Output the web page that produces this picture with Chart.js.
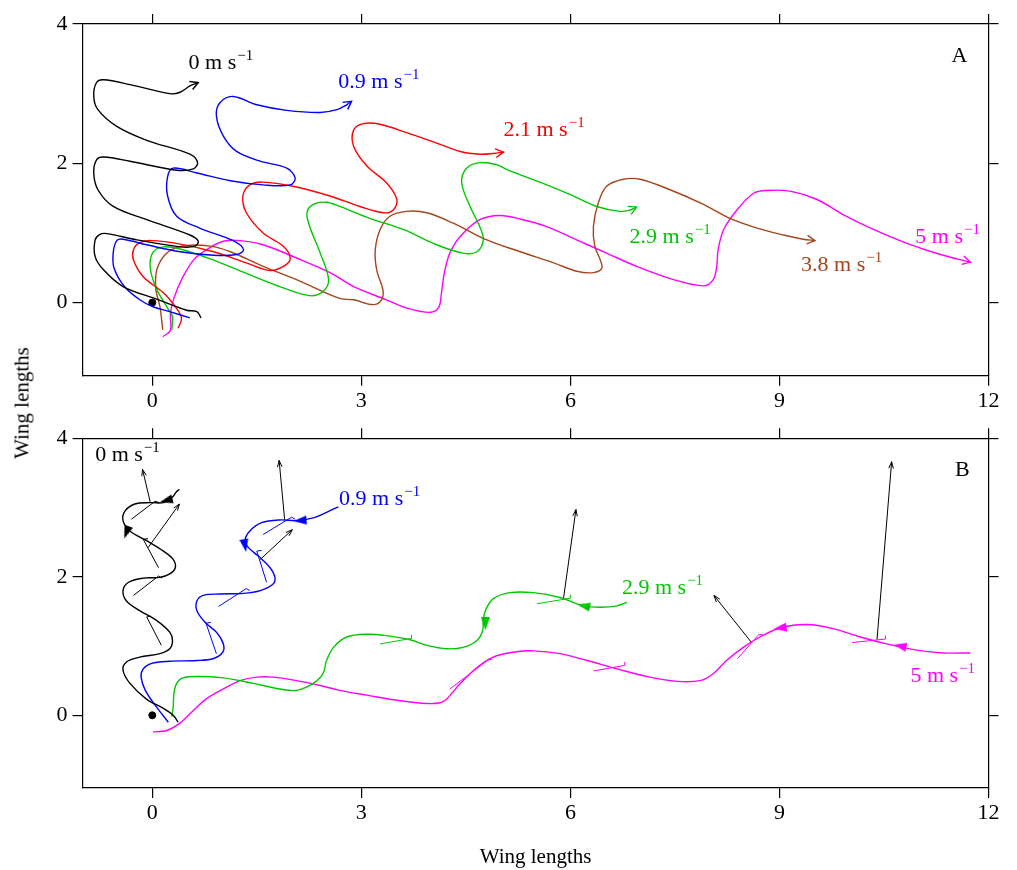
<!DOCTYPE html>
<html>
<head>
<meta charset="utf-8">
<script src="https://cdn.jsdelivr.net/npm/chart.js@4.4.1/dist/chart.umd.min.js"></script>
<style>
  body { margin: 0; background: #fff; }
  #wrap { position: relative; width: 1017px; height: 870px; background: #fff; }
  #boxA { position: absolute; left: 0; top: 0; width: 1017px; height: 420px; }
  #boxB { position: absolute; left: 0; top: 420px; width: 1017px; height: 450px; }
  #ytitle { position: absolute; left: 22px; top: 403px; transform: translate(-50%, -50%) rotate(-90deg);
            font: 21px "Liberation Serif", serif; white-space: nowrap; color: #000; }
</style>
</head>
<body>
<div id="wrap">
  <div id="boxA"><canvas id="chartA" width="1017" height="420"></canvas></div>
  <div id="boxB"><canvas id="chartB" width="1017" height="450"></canvas></div>
  <div id="ytitle">Wing lengths</div>
</div>
<script>
const xTicks = [0, 3, 6, 9, 12];
const yTicks = [0, 2, 4];

const BLACK = "#000000", BLUE = "#0000ff", RED = "#ff0000", GREEN = "#00c800", BROWN = "#a5451b", MAGENTA = "#ff00ff";

// Panel A: paths at 0, 0.9, 2.1, 2.9, 3.8 and 5 m/s (wing lengths)
const pathA0 = [[0.70,-0.22],[0.64,-0.13],[0.49,-0.11],[0.06,0.05],[-0.42,0.23],[-0.70,0.47],[-0.82,0.66],[-0.82,0.90],[-0.75,0.98],[-0.65,0.99],[-0.22,0.90],[0.40,0.80],[0.61,0.81],[0.66,0.88],[0.54,0.97],[-0.08,1.19],[-0.56,1.38],[-0.78,1.62],[-0.84,1.86],[-0.80,2.05],[-0.70,2.09],[-0.32,2.03],[0.35,1.90],[0.59,1.92],[0.65,2.01],[0.54,2.13],[-0.08,2.33],[-0.51,2.53],[-0.78,2.77],[-0.84,2.96],[-0.80,3.16],[-0.70,3.20],[-0.32,3.13],[0.25,3.00],[0.40,3.02],[0.54,3.11],[0.66,3.16]];
const pathA09 = [[0.54,-0.22],[0.25,-0.13],[0.01,-0.06],[-0.18,0.04],[-0.40,0.23],[-0.55,0.50],[-0.56,0.72],[-0.51,0.89],[-0.42,0.91],[-0.08,0.83],[0.40,0.73],[0.88,0.68],[1.21,0.69],[1.31,0.76],[1.16,0.89],[0.68,1.07],[0.35,1.24],[0.22,1.53],[0.22,1.81],[0.30,1.93],[0.64,1.86],[1.12,1.75],[1.59,1.69],[1.98,1.69],[2.05,1.79],[1.93,1.93],[1.55,2.03],[1.21,2.17],[1.02,2.39],[0.92,2.68],[0.97,2.87],[1.16,2.96],[1.50,2.84],[1.93,2.76],[2.41,2.73],[2.65,2.77],[2.79,2.84],[2.86,2.89]];
const pathA21 = [[0.37,-0.37],[0.42,-0.22],[0.33,-0.06],[0.16,0.14],[-0.13,0.37],[-0.27,0.61],[-0.27,0.76],[-0.18,0.86],[-0.01,0.89],[0.40,0.84],[0.88,0.73],[1.35,0.57],[1.69,0.46],[1.90,0.53],[1.98,0.64],[1.88,0.81],[1.59,1.00],[1.35,1.29],[1.30,1.53],[1.40,1.69],[1.59,1.73],[2.02,1.67],[2.55,1.53],[2.98,1.38],[3.32,1.29],[3.46,1.33],[3.51,1.48],[3.36,1.72],[3.08,1.96],[2.89,2.24],[2.89,2.48],[3.03,2.57],[3.27,2.56],[3.65,2.44],[4.08,2.29],[4.42,2.17],[4.70,2.13],[4.89,2.14],[5.04,2.16]];
const pathA29 = [[0.28,-0.39],[0.29,-0.20],[0.22,-0.08],[0.06,0.20],[-0.03,0.50],[0.01,0.72],[0.16,0.80],[0.40,0.77],[0.88,0.61],[1.35,0.42],[1.83,0.23],[2.26,0.10],[2.45,0.16],[2.53,0.33],[2.41,0.71],[2.26,1.09],[2.22,1.29],[2.31,1.41],[2.50,1.44],[2.69,1.38],[3.12,1.21],[3.60,1.05],[4.08,0.83],[4.46,0.71],[4.66,0.73],[4.75,0.90],[4.70,1.09],[4.56,1.38],[4.44,1.72],[4.51,1.93],[4.70,2.01],[4.94,1.98],[5.09,1.91],[5.66,1.69],[6.00,1.55],[6.38,1.38],[6.71,1.31],[6.86,1.33],[6.95,1.37]];
const pathA38 = [[0.15,-0.39],[0.11,-0.06],[0.05,0.20],[0.07,0.49],[0.23,0.73],[0.49,0.82],[0.83,0.81],[1.12,0.73],[1.59,0.52],[2.07,0.33],[2.69,0.06],[2.89,0.04],[3.17,-0.03],[3.29,0.04],[3.31,0.18],[3.22,0.47],[3.20,0.76],[3.27,1.05],[3.41,1.24],[3.65,1.31],[3.94,1.29],[4.32,1.14],[4.80,0.90],[5.28,0.73],[5.76,0.57],[6.09,0.45],[6.33,0.43],[6.45,0.49],[6.43,0.61],[6.35,0.81],[6.33,1.09],[6.40,1.43],[6.52,1.67],[6.76,1.77],[7.00,1.77],[7.43,1.62],[7.91,1.41],[8.29,1.21],[8.68,1.07],[9.06,0.97],[9.34,0.91],[9.51,0.89]];
const pathA5 = [[0.15,-0.49],[0.26,-0.40],[0.26,-0.15],[0.31,0.06],[0.42,0.33],[0.59,0.61],[0.78,0.76],[1.02,0.88],[1.26,0.89],[1.59,0.83],[2.07,0.64],[2.55,0.43],[2.89,0.23],[3.36,0.04],[3.65,-0.08],[3.99,-0.14],[4.11,-0.07],[4.15,0.14],[4.19,0.42],[4.27,0.71],[4.42,0.95],[4.70,1.19],[4.99,1.25],[5.28,1.20],[5.66,1.09],[6.09,0.90],[6.52,0.71],[6.95,0.52],[7.48,0.33],[7.91,0.24],[8.05,0.33],[8.10,0.52],[8.12,0.76],[8.20,1.05],[8.39,1.33],[8.63,1.57],[8.82,1.61],[9.15,1.60],[9.54,1.48],[9.92,1.26],[10.35,1.05],[10.83,0.85],[11.31,0.69],[11.74,0.58]];

// Panel B: paths at 0, 0.9, 2.9 and 5 m/s
const pathB0 = [[0.39,3.26],[0.35,3.23],[0.28,3.14],[0.16,3.07],[-0.03,3.07],[-0.25,3.05],[-0.39,2.95],[-0.42,2.81],[-0.32,2.66],[-0.08,2.52],[0.16,2.37],[0.30,2.25],[0.33,2.13],[0.25,2.04],[0.11,1.99],[-0.13,1.98],[-0.34,1.92],[-0.42,1.80],[-0.37,1.65],[-0.18,1.51],[0.06,1.37],[0.25,1.20],[0.29,1.08],[0.25,0.96],[0.11,0.89],[-0.18,0.84],[-0.37,0.77],[-0.42,0.65],[-0.32,0.46],[-0.08,0.23],[0.16,0.10],[0.30,0.00],[0.37,-0.10]];
const pathB09 = [[2.67,3.01],[2.50,2.93],[2.31,2.85],[2.07,2.81],[1.83,2.82],[1.57,2.78],[1.40,2.66],[1.33,2.52],[1.38,2.42],[1.52,2.30],[1.69,2.13],[1.76,1.99],[1.73,1.89],[1.55,1.80],[1.31,1.76],[0.97,1.75],[0.73,1.73],[0.64,1.65],[0.64,1.51],[0.76,1.34],[0.92,1.20],[1.02,1.03],[1.01,0.91],[0.88,0.82],[0.64,0.79],[0.25,0.78],[-0.01,0.75],[-0.13,0.67],[-0.16,0.55],[-0.10,0.36],[0.06,0.12],[0.23,-0.10]];
const pathB29 = [[0.28,-0.02],[0.30,0.12],[0.31,0.31],[0.35,0.46],[0.44,0.54],[0.68,0.56],[1.02,0.54],[1.45,0.46],[1.83,0.38],[2.07,0.36],[2.31,0.46],[2.45,0.60],[2.50,0.79],[2.60,0.98],[2.79,1.13],[3.08,1.17],[3.36,1.15],[3.70,1.09],[3.94,1.01],[4.23,0.96],[4.46,0.98],[4.66,1.08],[4.74,1.22],[4.75,1.37],[4.78,1.51],[4.89,1.68],[5.13,1.77],[5.47,1.77],[5.85,1.70],[6.19,1.58],[6.43,1.56],[6.67,1.58],[6.81,1.63]];
const pathB5 = [[0.01,-0.24],[0.21,-0.22],[0.40,-0.11],[0.59,0.07],[0.78,0.24],[1.02,0.38],[1.26,0.50],[1.50,0.55],[1.74,0.55],[2.07,0.50],[2.41,0.43],[2.69,0.36],[3.08,0.29],[3.56,0.21],[3.94,0.17],[4.13,0.18],[4.23,0.24],[4.42,0.46],[4.66,0.69],[4.89,0.84],[5.18,0.91],[5.47,0.93],[5.85,0.89],[6.24,0.79],[6.67,0.67],[7.14,0.55],[7.53,0.49],[7.86,0.50],[8.05,0.60],[8.24,0.79],[8.48,0.98],[8.72,1.13],[9.01,1.26],[9.39,1.31],[9.77,1.25],[10.16,1.13],[10.54,1.03],[10.97,0.94],[11.35,0.90],[11.74,0.90]];

// wing chord markers (segment + small hook)
const flagsB0 = [[[-0.30,2.83],[0.04,3.09],[0.10,3.07]], [[0.09,2.13],[-0.13,2.54],[-0.06,2.55]], [[-0.27,1.73],[0.09,2.01],[0.14,1.98]], [[0.13,1.01],[-0.08,1.42],[-0.02,1.43]]];
const flagsB09 = [[[1.59,2.61],[2.00,2.86],[2.05,2.83]], [[1.64,1.92],[1.50,2.37],[1.57,2.38]], [[0.95,1.57],[1.35,1.83],[1.40,1.80]], [[0.92,0.89],[0.77,1.33],[0.84,1.34]]];
const flagsB29 = [[[3.27,1.03],[3.72,1.11],[3.72,1.16]], [[5.52,1.61],[6.00,1.69],[6.00,1.74]]];
const flagsB5 = [[[4.27,0.38],[4.82,0.80],[4.88,0.81]], [[6.33,0.64],[6.78,0.72],[6.78,0.77]], [[8.40,0.82],[8.70,1.16],[8.76,1.17]], [[10.04,1.05],[10.52,1.10],[10.52,1.15]]];

// force vectors (base -> tip)
const vectorsB = [[[-0.03,3.08],[-0.14,3.55]], [[-0.06,2.42],[0.39,3.05]], [[1.90,2.82],[1.82,3.68]], [[1.55,2.25],[2.01,2.68]], [[5.90,1.68],[6.08,2.97]], [[8.60,1.05],[8.06,1.73]], [[10.40,1.09],[10.61,3.66]]];

// direction markers: x, y, heading (deg, 0 = up, clockwise)
const dirB0 = [[0.20,3.10,255],[-0.37,2.64,200]];
const dirB09 = [[2.12,2.81,265],[1.33,2.45,170]];
const dirB29 = [[4.78,1.32,180],[6.19,1.58,282]];
const dirB5 = [[9.01,1.26,262],[10.73,1.00,282]];

const labelsA = [
  { text: "0 m s", sup: "\u22121", x: 0.52, y: 3.35, color: BLACK },
  { text: "0.9 m s", sup: "\u22121", x: 2.67, y: 3.08, color: BLUE },
  { text: "2.1 m s", sup: "\u22121", x: 5.04, y: 2.39, color: RED },
  { text: "2.9 m s", sup: "\u22121", x: 6.85, y: 0.85, color: GREEN },
  { text: "3.8 m s", sup: "\u22121", x: 9.31, y: 0.46, color: BROWN },
  { text: "5 m s", sup: "\u22121", x: 10.95, y: 0.86, color: MAGENTA },
  { text: "A", x: 11.47, y: 3.46, color: BLACK }
];
const labelsB = [
  { text: "0 m s", sup: "\u22121", x: -0.82, y: 3.67, color: BLACK },
  { text: "0.9 m s", sup: "\u22121", x: 2.68, y: 3.04, color: BLUE },
  { text: "2.9 m s", sup: "\u22121", x: 6.74, y: 1.75, color: GREEN },
  { text: "5 m s", sup: "\u22121", x: 10.88, y: 0.48, color: MAGENTA },
  { text: "B", x: 11.52, y: 3.45, color: BLACK }
];

const FONT = "Liberation Serif";
const pts = a => a.map(p => ({ x: p[0], y: p[1] }));
const joined = list => list.flatMap((seg, i) => (i ? [{ x: null, y: null }] : []).concat(pts(seg)));

// narrow filled arrowhead used as point style (tip up, rotated by Chart.js)
function arrowImage(color) {
  const c = document.createElement("canvas");
  c.width = 9; c.height = 13;
  const g = c.getContext("2d");
  g.fillStyle = color;
  g.beginPath();
  g.moveTo(4.5, 0);
  g.lineTo(9, 13);
  g.lineTo(0, 13);
  g.closePath();
  g.fill();
  return c;
}

function curve(data, color, arrow) {
  return { data: pts(data), showLine: true, borderColor: color, borderWidth: 1.4, pointRadius: 0,
           tension: 0.35, arrowHead: arrow ? { len: 9, ang: 0.5 } : null };
}
function segments(list, color, arrow) {
  return { data: joined(list), showLine: true, borderColor: color, borderWidth: 1, pointRadius: 0,
           tension: 0, arrowHead: arrow ? { len: 7, ang: 0.33 } : null };
}
function markers(list, color) {
  return { data: pts(list), showLine: false, pointStyle: arrowImage(color), pointRadius: 6,
           pointRotation: list.map(p => p[2]) };
}
const origin = { data: [{ x: 0, y: 0 }], showLine: false, pointRadius: 3.5, pointBackgroundColor: BLACK, pointBorderColor: BLACK };

function head(ctx, x0, y0, x1, y1, len, ang, color, w) {
  const a = Math.atan2(y1 - y0, x1 - x0);
  ctx.save();
  ctx.strokeStyle = color;
  ctx.lineWidth = w;
  ctx.beginPath();
  ctx.moveTo(x1 - len * Math.cos(a - ang), y1 - len * Math.sin(a - ang));
  ctx.lineTo(x1, y1);
  ctx.lineTo(x1 - len * Math.cos(a + ang), y1 - len * Math.sin(a + ang));
  ctx.stroke();
  ctx.restore();
}

function extras(labels) {
  return {
    id: "extras",
    afterDatasetsDraw(chart) {
      const ctx = chart.ctx;
      chart.data.datasets.forEach((ds, i) => {
        if (!ds.arrowHead) return;
        const el = chart.getDatasetMeta(i).data;
        for (let k = 1; k < el.length; k++) {
          const end = k === el.length - 1 || el[k + 1].skip;
          if (!end || el[k].skip || el[k - 1].skip) continue;
          head(ctx, el[k - 1].x, el[k - 1].y, el[k].x, el[k].y, ds.arrowHead.len, ds.arrowHead.ang, ds.borderColor, ds.borderWidth);
        }
      });
    },
    afterDraw(chart) {
      const ctx = chart.ctx, sx = chart.scales.x, sy = chart.scales.y;
      ctx.save();
      ctx.textBaseline = "alphabetic";
      labels.forEach(l => {
        const px = sx.getPixelForValue(l.x), py = sy.getPixelForValue(l.y);
        ctx.fillStyle = l.color;
        ctx.font = "22px \"" + FONT + "\"";
        ctx.fillText(l.text, px, py);
        if (l.sup) {
          const w = ctx.measureText(l.text).width;
          ctx.font = "15px \"" + FONT + "\"";
          ctx.fillText(l.sup, px + w + 1, py - 9);
        }
      });
      ctx.restore();
    }
  };
}

function makeScales(bottomH, topH, withTitle) {
  const fix = vals => s => { s.ticks = vals.map(v => ({ value: v })); };
  const tickFont = { family: FONT, size: 22 };
  const grid = { drawOnChartArea: false, drawTicks: true, tickLength: 10, color: "#000", lineWidth: 1.2 };
  const border = { display: true, color: "#000", width: 1.2 };
  return {
    x: { type: "linear", position: "bottom", min: -1, max: 12, afterBuildTicks: fix(xTicks),
         afterFit: s => { s.height = bottomH; }, grid, border,
         ticks: { font: tickFont, color: "#000", padding: 2, maxRotation: 0 },
         title: { display: withTitle, text: "Wing lengths", color: "#000", font: { family: FONT, size: 21 }, padding: { top: 0, bottom: 0 } } },
    x2: { type: "linear", position: "top", min: -1, max: 12, afterBuildTicks: fix(xTicks),
          afterFit: s => { s.height = topH; }, grid, border, ticks: { display: false } },
    y: { type: "linear", position: "left", min: -1.05, max: 4, afterBuildTicks: fix(yTicks),
         afterFit: s => { s.width = 82.6; }, grid, border,
         ticks: { font: tickFont, color: "#000", padding: 5 } },
    y2: { type: "linear", position: "right", min: -1.05, max: 4, afterBuildTicks: fix(yTicks),
          afterFit: s => { s.width = 28.5; }, grid, border, ticks: { display: false } }
  };
}

function baseOptions(bottomH, topH, withTitle) {
  return {
    responsive: false,
    animation: false,
    events: [],
    layout: { padding: 0 },
    plugins: { legend: { display: false }, tooltip: { enabled: false } },
    scales: makeScales(bottomH, topH, withTitle)
  };
}

new Chart(document.getElementById("chartA"), {
  type: "scatter",
  data: {
    datasets: [
      curve(pathA0, BLACK, true),
      curve(pathA09, BLUE, true),
      curve(pathA21, RED, true),
      curve(pathA29, GREEN, true),
      curve(pathA38, BROWN, true),
      curve(pathA5, MAGENTA, true),
      origin
    ]
  },
  options: baseOptions(44.3, 24, false),
  plugins: [extras(labelsA)]
});

new Chart(document.getElementById("chartB"), {
  type: "scatter",
  data: {
    datasets: [
      curve(pathB0, BLACK, false),
      curve(pathB09, BLUE, false),
      curve(pathB29, GREEN, false),
      curve(pathB5, MAGENTA, false),
      segments(flagsB0, BLACK, false),
      segments(flagsB09, BLUE, false),
      segments(flagsB29, GREEN, false),
      segments(flagsB5, MAGENTA, false),
      segments(vectorsB, BLACK, true),
      markers(dirB0, BLACK),
      markers(dirB09, BLUE),
      markers(dirB29, GREEN),
      markers(dirB5, MAGENTA),
      origin
    ]
  },
  options: baseOptions(82, 15.7, true),
  plugins: [extras(labelsB)]
});
</script>
</body>
</html>
